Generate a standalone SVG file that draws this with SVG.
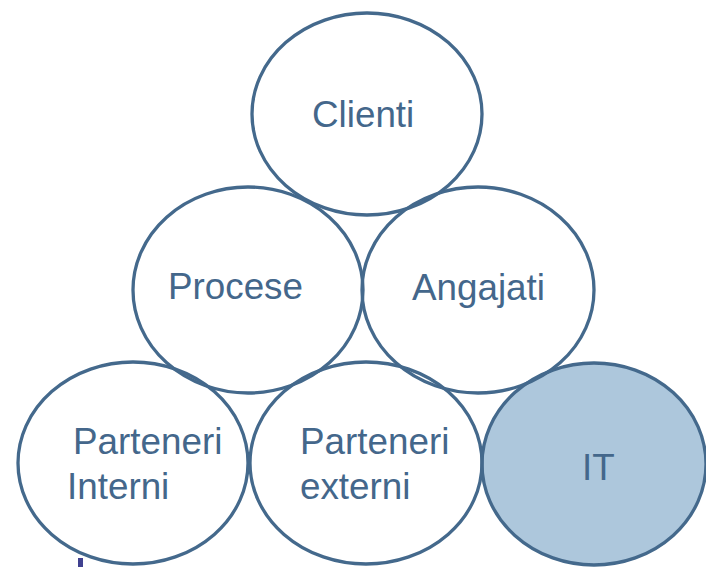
<svg xmlns="http://www.w3.org/2000/svg" width="706" height="567" viewBox="0 0 706 567">
<style>
.c{fill:none;stroke:#44698c;stroke-width:3.3}
.f{fill:#adc7dc;stroke:#44698c;stroke-width:3.3}
.t{font-family:"Liberation Sans",Arial,sans-serif;font-size:36.8px;fill:#44678b}
</style>
<rect width="706" height="567" fill="#ffffff"/>
<g id="connectors"></g>
<g id="node-it">
<ellipse class="f" cx="594" cy="464" rx="112" ry="101"/>
<text class="t" x="582" y="480">IT</text>
</g>
<g id="node-clienti">
<ellipse class="c" cx="367" cy="114" rx="115" ry="101"/>
<text class="t" x="312" y="127">Clienti</text>
</g>
<g id="node-procese">
<ellipse class="c" cx="248" cy="290" rx="115" ry="103"/>
<text class="t" x="168" y="299">Procese</text>
</g>
<g id="node-angajati">
<ellipse class="c" cx="478" cy="290" rx="116" ry="103"/>
<text class="t" x="412" y="300">Angajati</text>
</g>
<g id="node-parteneri-interni">
<ellipse class="c" cx="133" cy="463" rx="115" ry="101"/>
<text class="t" x="73" y="454">Parteneri</text>
<text class="t" x="67" y="499">Interni</text>
</g>
<g id="node-parteneri-externi">
<ellipse class="c" cx="366" cy="463" rx="116" ry="101"/>
<text class="t" x="300" y="454">Parteneri</text>
<text class="t" x="300" y="499">externi</text>
</g>
<rect x="78" y="558" width="5" height="9" fill="#404190"/>
</svg>
